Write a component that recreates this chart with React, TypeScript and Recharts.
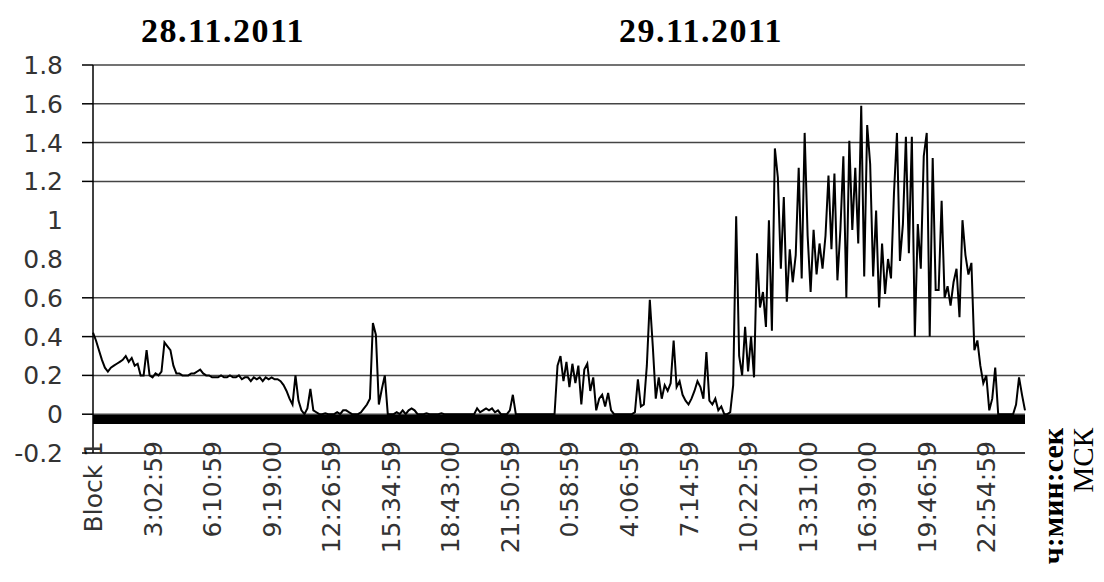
import { LineChart, Line, XAxis, YAxis, ReferenceLine } from "recharts";

// tick labels on the category axis, one every POINTS_PER_LABEL samples
const TICK_LABELS = [
  "Block 1", "3:02:59", "6:10:59", "9:19:00", "12:26:59", "15:34:59", "18:43:00", "21:50:59",
  "0:58:59", "4:06:59", "7:14:59", "10:22:59", "13:31:00", "16:39:00", "19:46:59", "22:54:59",
];
const POINTS_PER_LABEL = 20;

const DATE_TITLES = ["28.11.2011", "29.11.2011"];

const Y_TICKS = [-0.2, 0, 0.2, 0.4, 0.6, 0.8, 1, 1.2, 1.4, 1.6, 1.8];
// only these levels have a gridline / tick mark in the original
const GRID_LEVELS = [0, 0.2, 0.4, 0.6, 1.2, 1.4, 1.6, 1.8];
const BASE_LEVEL = -0.027;

// 28.11
const VALUES_28 = [
  0.42, 0.38, 0.33, 0.28, 0.24, 0.22, 0.24, 0.25, 0.26, 0.27,
  0.28, 0.30, 0.27, 0.29, 0.25, 0.26, 0.20, 0.20, 0.33, 0.20,
  0.19, 0.21, 0.20, 0.22, 0.37, 0.35, 0.33, 0.25, 0.21, 0.21,
  0.20, 0.20, 0.20, 0.21, 0.21, 0.22, 0.23, 0.21, 0.20, 0.20,
  0.19, 0.19, 0.19, 0.20, 0.19, 0.19, 0.20, 0.19, 0.19, 0.20,
  0.18, 0.19, 0.19, 0.17, 0.19, 0.18, 0.19, 0.17, 0.19, 0.18,
  0.19, 0.18, 0.18, 0.17, 0.15, 0.12, 0.08, 0.05, 0.20, 0.07,
  0.02, 0.00, 0.03, 0.13, 0.02, 0.01, 0.00, 0.00, 0.005, 0.00,
  0.00, 0.00, 0.01, 0.00, 0.02, 0.02, 0.01, 0.00, 0.00, 0.00,
  0.01, 0.03, 0.05, 0.08, 0.47, 0.41, 0.05, 0.13, 0.20, 0.00,
  0.00, 0.00, 0.01, 0.00, 0.02, 0.00, 0.02, 0.03, 0.02, 0.00,
  0.00, 0.00, 0.005, 0.00, 0.00, 0.00, 0.00, 0.005, 0.00, 0.00,
  0.00, 0.00, 0.00, 0.00, 0.00, 0.00, 0.00, 0.00, 0.00, 0.03,
  0.01, 0.02, 0.03, 0.02, 0.03, 0.01, 0.02, 0.00, 0.00, 0.00,
  0.02, 0.10, 0.00, 0.00, 0.00, 0.00, 0.00, 0.00, 0.00, 0.00,
  0.00, 0.00, 0.00, 0.00, 0.00,
];

// 29.11
const VALUES_29 = [
  0.00, 0.25, 0.30, 0.17, 0.27,
  0.14, 0.26, 0.16, 0.25, 0.05, 0.23, 0.26, 0.12, 0.19, 0.02,
  0.08, 0.10, 0.04, 0.11, 0.02, 0.00, 0.00, 0.00, 0.00, 0.00,
  0.00, 0.00, 0.01, 0.18, 0.04, 0.05, 0.25, 0.59, 0.35, 0.08,
  0.19, 0.08, 0.15, 0.12, 0.16, 0.38, 0.14, 0.17, 0.10, 0.07,
  0.05, 0.08, 0.12, 0.17, 0.14, 0.08, 0.32, 0.07, 0.05, 0.08,
  0.02, 0.04, 0.00, 0.00, 0.01, 0.15, 1.02, 0.30, 0.20, 0.45,
  0.22, 0.40, 0.19, 0.83, 0.55, 0.63, 0.45, 1.00, 0.43, 1.37,
  1.22, 0.75, 1.12, 0.58, 0.85, 0.68, 0.82, 1.27, 0.70, 1.45,
  0.92, 0.63, 0.95, 0.72, 0.88, 0.75, 0.92, 1.23, 0.85, 1.24,
  0.69, 0.95, 1.33, 0.60, 1.41, 0.95, 1.27, 0.88, 1.59, 0.71,
  1.49, 1.29, 0.71, 1.05, 0.55, 0.88, 0.62, 0.80, 0.70, 1.14,
  1.45, 0.79, 0.98, 1.43, 0.83, 1.43, 0.40, 0.98, 0.75, 1.33,
  1.45, 0.40, 1.32, 0.64, 0.64, 1.10, 0.60, 0.66, 0.56, 0.68,
  0.75, 0.50, 1.00, 0.82, 0.72, 0.78, 0.33, 0.38, 0.25, 0.16,
  0.20, 0.02, 0.08, 0.24, 0.00, 0.00, 0.00, 0.00, 0.00, 0.00,
  0.05, 0.19, 0.10, 0.02,
];

const data = [...VALUES_28, ...VALUES_29].map((v, i) => ({ i, v }));
const xTicks = TICK_LABELS.map((_, k) => k * POINTS_PER_LABEL);

const W = 1104;
const H = 582;
const PLOT_LEFT = 93;
const AXIS_Y = 453;
const LABEL_FONT = "'DejaVu Sans', sans-serif";
const SERIF = "'Liberation Serif', serif";

function YTick({ y, payload }: any) {
  const v = payload.value;
  const marked = GRID_LEVELS.includes(v) || v === -0.2;
  return (
    <g>
      {marked && (
        <line x1={PLOT_LEFT - 11} x2={PLOT_LEFT} y1={y} y2={y} stroke="#000" strokeWidth={1.5} />
      )}
      <text x={63} y={y} dy="0.36em" textAnchor="end" fontFamily={LABEL_FONT} fontSize={25} fill="#333">
        {String(v)}
      </text>
    </g>
  );
}

function XTick({ x, payload }: any) {
  const top = AXIS_Y - 12;
  return (
    <text
      x={x}
      y={top}
      dy="0.36em"
      textAnchor="end"
      transform={`rotate(-90 ${x} ${top})`}
      fontFamily={LABEL_FONT}
      fontSize={25}
      fill="#333"
    >
      {TICK_LABELS[payload.value / POINTS_PER_LABEL]}
    </text>
  );
}

export default function App() {
  return (
    <div style={{ position: "absolute", left: 0, top: 0, width: W, height: H, background: "#fff", overflow: "hidden" }}>
      <LineChart width={W} height={H} data={data} margin={{ top: 65, right: 79, bottom: 99, left: 33 }}>
        <XAxis
          type="number"
          dataKey="i"
          domain={[0, data.length - 1]}
          ticks={xTicks}
          interval={0}
          height={30}
          tickLine={false}
          axisLine={{ stroke: "#000", strokeWidth: 1.5 }}
          tick={<XTick />}
        />
        <YAxis
          type="number"
          domain={[-0.2, 1.8]}
          ticks={Y_TICKS}
          interval={0}
          width={60}
          tickLine={false}
          axisLine={{ stroke: "#000", strokeWidth: 1.5 }}
          tick={<YTick />}
        />
        {GRID_LEVELS.map((lv) => (
          <ReferenceLine key={lv} y={lv} stroke="#444" strokeWidth={1.5} />
        ))}
        <Line
          type="linear"
          dataKey="v"
          stroke="#000"
          strokeWidth={2}
          dot={false}
          isAnimationActive={false}
        />
        <ReferenceLine y={BASE_LEVEL} stroke="#000" strokeWidth={9} />
      </LineChart>
      <svg width={W} height={H} style={{ position: "absolute", left: 0, top: 0, pointerEvents: "none" }}>
        <text x={223} y={42} textAnchor="middle" fontFamily={SERIF} fontWeight="bold" fontSize={34} letterSpacing={1.5}>
          {DATE_TITLES[0]}
        </text>
        <text x={701} y={42} textAnchor="middle" fontFamily={SERIF} fontWeight="bold" fontSize={34} letterSpacing={1.5}>
          {DATE_TITLES[1]}
        </text>
        <text x={1052} y={428} dy="0.35em" textAnchor="end" transform="rotate(-90 1052 428)" fontFamily={SERIF} fontWeight="bold" fontSize={30}>
          ч:мин:сек
        </text>
        <text x={1083} y={428} dy="0.35em" textAnchor="end" transform="rotate(-90 1083 428)" fontFamily={SERIF} fontSize={29}>
          МСК
        </text>
      </svg>
    </div>
  );
}
